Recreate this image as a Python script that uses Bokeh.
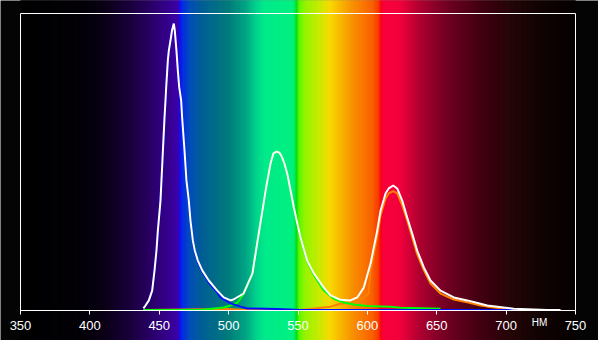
import numpy as np
from bokeh.plotting import figure
from bokeh.models import Range1d, LinearAxis, FixedTicker
from bokeh.core.properties import value
from bokeh.embed import file_html
from bokeh.resources import INLINE

# ---- data: spectra (wavelength nm, relative intensity; 1.0 = top of frame) ----
white_nm = [438.6, 440.1, 442.5, 444.9, 446.6, 448.0, 449.0, 450.9, 452.3, 453.8,
            454.5, 455.0, 456.2, 456.9, 458.1, 459.2, 460.5, 461.2, 462.4, 463.4,
            464.4, 465.8, 466.5, 468.2, 469.6, 471.3, 472.5, 474.2, 475.6, 477.8,
            481.0, 485.7, 491.8, 496.5, 501.4, 503.5, 510.7, 517.2, 518.6, 521.5,
            524.4, 527.3, 530.2, 532.3, 534.5, 536.7, 538.3, 540.2, 542.4, 544.6,
            547.0, 551.8, 556.6, 561.4, 568.6, 573.4, 580.6, 587.8, 592.7, 597.4,
            602.3, 607.1, 609.5, 613.1, 615.4, 618.6, 621.5, 625.1, 628.7, 632.3,
            635.9, 640.7, 645.5, 652.7, 662.3, 672.0, 681.5, 686.4, 705.5, 729.6,
            739.2]
white_val = [0.007, 0.017, 0.034, 0.067, 0.135, 0.202, 0.269, 0.370, 0.505, 0.650,
             0.707, 0.751, 0.842, 0.875, 0.909, 0.943, 0.966, 0.943, 0.875, 0.808,
             0.751, 0.707, 0.650, 0.539, 0.438, 0.370, 0.303, 0.236, 0.202, 0.168,
             0.135, 0.101, 0.067, 0.044, 0.034, 0.037, 0.057, 0.125, 0.168, 0.253,
             0.337, 0.421, 0.495, 0.529, 0.535, 0.531, 0.518, 0.495, 0.458, 0.405,
             0.347, 0.246, 0.168, 0.125, 0.077, 0.051, 0.036, 0.034, 0.044, 0.077,
             0.158, 0.269, 0.337, 0.394, 0.411, 0.421, 0.411, 0.370, 0.313, 0.259,
             0.202, 0.145, 0.101, 0.067, 0.044, 0.034, 0.023, 0.017, 0.006, 0.002,
             0.002]

blue_nm = [438.6, 440.1, 442.5, 444.9, 446.6, 448.0, 449.0, 450.9, 452.3, 453.8,
           454.5, 455.0, 456.2, 456.9, 458.1, 459.2, 460.5, 461.2, 462.4, 463.4,
           464.4, 465.8, 466.5, 468.2, 469.6, 471.3, 472.5, 474.2, 475.6, 477.8,
           481.0, 485.7, 491.8, 494.1, 501.4, 508.6, 513.4, 535.2, 551.8, 600.0,
           650.0, 705.5]
blue_val = [0.007, 0.017, 0.034, 0.067, 0.135, 0.202, 0.269, 0.370, 0.505, 0.650,
            0.707, 0.751, 0.842, 0.875, 0.909, 0.943, 0.966, 0.943, 0.875, 0.808,
            0.751, 0.707, 0.650, 0.539, 0.438, 0.368, 0.300, 0.232, 0.197, 0.162,
            0.131, 0.094, 0.061, 0.044, 0.024, 0.013, 0.007, 0.005, 0.002, 0.002,
            0.002, 0.002]

green_nm = [438.6, 480.0, 496.3, 501.4, 506.4, 510.7, 517.2, 518.6, 521.5, 524.4,
            527.3, 530.2, 532.3, 534.5, 536.7, 538.3, 540.2, 542.4, 544.6, 547.0,
            551.8, 556.6, 561.4, 568.6, 575.8, 583.0, 590.2, 599.9, 616.7, 623.9,
            652.7]
green_val = [0.002, 0.002, 0.010, 0.017, 0.027, 0.054, 0.125, 0.168, 0.253, 0.337,
             0.421, 0.495, 0.529, 0.535, 0.531, 0.518, 0.495, 0.458, 0.405, 0.347,
             0.246, 0.165, 0.120, 0.067, 0.039, 0.027, 0.020, 0.015, 0.013, 0.009,
             0.006]

red_nm = [438.6, 500.0, 512.2, 551.8, 573.4, 580.6, 587.8, 595.0, 600.8, 602.3,
          607.1, 609.5, 613.1, 615.4, 618.6, 621.5, 625.1, 628.7, 632.3, 635.9,
          640.7, 645.5, 652.7, 662.3, 672.0, 681.5, 686.4, 705.5]
red_val = [0.002, 0.005, 0.002, 0.002, 0.013, 0.023, 0.025, 0.034, 0.057, 0.135,
           0.249, 0.320, 0.377, 0.394, 0.402, 0.394, 0.354, 0.303, 0.246, 0.189,
           0.135, 0.091, 0.057, 0.037, 0.028, 0.017, 0.013, 0.003]

tick_nm = [350, 400, 450, 500, 550, 600, 650, 700, 750]
unit_label = "НМ"

# ---- background spectrum colour stops (decoration) ----
bg_nm = [350, 394, 410, 430, 445, 458, 464.2, 464.6, 467.5, 472, 480, 500, 512, 520,
         526, 546, 548.2, 549, 551, 556, 566, 573, 580, 590, 604, 608.5, 609.8, 612,
         624, 638, 650, 660, 681, 703, 725, 750]
bg_col = ["#040404", "#050409", "#0c0018", "#1d0040", "#2d006c", "#3a0098", "#4000b0",
          "#1010f8", "#0830e8", "#0050c0", "#00609c", "#00807f", "#00a888", "#00d890",
          "#00f090", "#00f884", "#00f060", "#00e010", "#60ff00", "#a0fa00", "#d0f000",
          "#ffe000", "#ffc000", "#ff9400", "#ff6400", "#ff3800", "#ff0818", "#ff0040",
          "#f8003e", "#b40034", "#8c002c", "#700024", "#460014", "#28080a", "#140505",
          "#080404"]

def _rgb(h):
    return [int(h[i:i + 2], 16) for i in (1, 3, 5)]

rgb = np.array([_rgb(c) for c in bg_col], dtype=float)
step = 0.5
wl = np.arange(350, 750, step)
cols = []
for w in wl + step / 2:
    r, g, b = (np.interp(w, bg_nm, rgb[:, k]) for k in range(3))
    cols.append("#%02x%02x%02x" % (int(round(r)), int(round(g)), int(round(b))))

# ---- figure: frame fills the whole window ----
px_per_nm = 555 / 400.0
px_per_unit = 297.0
x0 = 350 - 20 / px_per_nm
x1 = x0 + 598 / px_per_nm
y0 = -30 / px_per_unit
y1 = y0 + 340 / px_per_unit

p = figure(width=598, height=340, x_range=Range1d(x0, x1), y_range=Range1d(y0, y1),
           x_axis_type=None, y_axis_type=None, toolbar_location=None,
           output_backend="svg", min_border=0, outline_line_color=None,
           background_fill_color="#040404", border_fill_color="#040404")

p.quad(left=wl, right=wl + step, bottom=y0 - 0.1, top=y1 + 0.1,
       fill_color=cols, line_color=cols, line_width=0.6)

# frame
p.quad(left=[350], right=[750], bottom=[0], top=[1], fill_color=None,
       line_color="white", line_width=1)

p.line(red_nm, red_val, line_color="#ff7f00", line_width=2)
p.line(green_nm, green_val, line_color="#00ff00", line_width=2)
p.line(blue_nm, blue_val, line_color="#0010ff", line_width=2)
p.line(white_nm, white_val, line_color="white", line_width=2)

ax = LinearAxis(fixed_location=0, bounds=(350, 750), ticker=FixedTicker(ticks=tick_nm))
ax.axis_line_color = "white"
ax.axis_line_width = 1
ax.major_tick_line_color = "white"
ax.major_tick_in = 0
ax.major_tick_out = 4
ax.minor_tick_line_color = None
ax.major_label_text_color = "white"
ax.major_label_text_font = "Liberation Sans"
ax.major_label_text_font_size = "13px"
ax.major_label_standoff = 6
p.add_layout(ax, "below")

p.text(x=[724.1], y=[-0.042], text=[unit_label], text_color="white",
       text_font=value("Liberation Sans"), text_font_size="10px",
       text_align="center", text_baseline="middle")

open("out.html", "w").write(file_html(p, INLINE))
